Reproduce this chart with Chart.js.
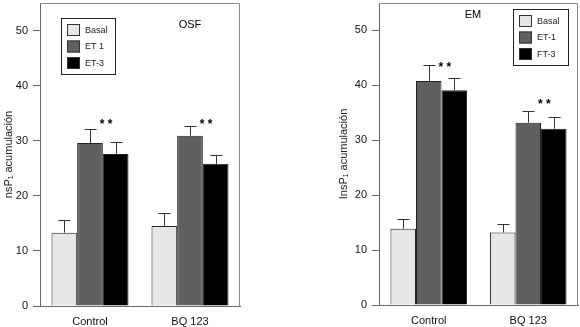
<!doctype html>
<html lang="es">
<head>
<meta charset="utf-8">
<title>InsP1 acumulación</title>
<script src="https://cdn.jsdelivr.net/npm/chart.js"></script>
<style>
html, body { margin: 0; padding: 0; background: #fff; }
.panel { position: absolute; top: 0; width: 290px; height: 327px; }
#p1 { left: 0; }
#p2 { left: 290px; }
</style>
</head>
<body>
<div class="panel" id="p1"><canvas id="c1"></canvas></div>
<div class="panel" id="p2"><canvas id="c2"></canvas></div>
<script>
// Datos
const categories = ['Control', 'BQ 123'];
const yTicks = [0, 10, 20, 30, 40, 50];

// Panel izquierdo (OSF)
const osfBasal = [13.3, 14.5];
const osfET1 = [29.6, 30.9];
const osfET3 = [27.6, 25.8];
const osfBasalErr = [2.4, 2.3];
const osfET1Err = [2.6, 1.7];
const osfET3Err = [2.2, 1.7];
const osfStars = [33.4, 33.4];
const osfLabels = ['Basal', 'ET 1', 'ET-3'];

// Panel derecho (EM)
const emBasal = [13.9, 13.2];
const emET1 = [40.8, 33.2];
const emET3 = [39.1, 32.1];
const emBasalErr = [1.7, 1.6];
const emET1Err = [2.9, 2.1];
const emET3Err = [2.3, 2.1];
const emStars = [43.8, 37.1];
const emLabels = ['Basal', 'ET-1', 'FT-3'];

const colors = ['#e6e6e6', '#606060', '#000000'];
const FONT = 'Liberation Sans, Arial, sans-serif';

// barras de error (solo hacia arriba) + asteriscos + marco
const extras = {
  id: 'extras',
  afterDatasetsDraw(chart, args, opts) {
    const ctx = chart.ctx;
    const y = chart.scales.y;
    const a = chart.chartArea;
    ctx.save();
    // marco gris
    ctx.strokeStyle = '#8a8a8a';
    ctx.lineWidth = 1;
    ctx.beginPath();
    ctx.moveTo(a.left, a.top + 0.5);
    ctx.lineTo(a.right - 0.5, a.top + 0.5);
    ctx.lineTo(a.right - 0.5, a.bottom);
    ctx.stroke();

    ctx.strokeStyle = '#333';
    chart.data.datasets.forEach((ds, di) => {
      const meta = chart.getDatasetMeta(di);
      meta.data.forEach((bar, i) => {
        const top = y.getPixelForValue(ds.data[i]);
        const e = y.getPixelForValue(ds.data[i] + ds.err[i]);
        const x = Math.round(bar.x) + 0.5;
        ctx.beginPath();
        ctx.moveTo(x, top);
        ctx.lineTo(x, Math.round(e) + 0.5);
        ctx.moveTo(x - 6, Math.round(e) + 0.5);
        ctx.lineTo(x + 6, Math.round(e) + 0.5);
        ctx.stroke();
      });
    });

    // asteriscos
    ctx.fillStyle = '#000';
    ctx.font = 'bold 12px ' + FONT;
    ctx.textAlign = 'center';
    ctx.textBaseline = 'middle';
    const mid = chart.getDatasetMeta(1);
    opts.stars.forEach((v, i) => {
      ctx.fillText('* *', mid.data[i].x + 16, y.getPixelForValue(v) + 3);
    });

    // etiqueta del panel
    ctx.font = '11px ' + FONT;
    ctx.fillText(opts.tag, opts.tagX, opts.tagY);

    // leyenda en recuadro
    const L = opts.legend;
    ctx.fillStyle = '#fff';
    ctx.fillRect(L.x, L.y, L.w, L.h);
    ctx.strokeStyle = '#222';
    ctx.strokeRect(L.x + 0.5, L.y + 0.5, L.w, L.h);
    chart.data.datasets.forEach((ds, di) => {
      const ry = L.y + 6 + di * 16.5;
      ctx.fillStyle = ds.backgroundColor;
      ctx.fillRect(L.x + 6, ry, 13, 12);
      ctx.strokeStyle = '#333';
      ctx.strokeRect(L.x + 6.5, ry + 0.5, 12, 11);
      ctx.fillStyle = '#222';
      ctx.font = '9px ' + FONT;
      ctx.textAlign = 'left';
      ctx.fillText(ds.label, L.x + 24, ry + 6.5);
    });
    ctx.restore();
  }
};

function makeChart(id, series, errs, labels, yTitle, axisW, padLeft, padRight, padTop, xH, extra) {
  return new Chart(document.getElementById(id), {
    type: 'bar',
    data: {
      labels: categories,
      datasets: series.map((s, i) => ({
        label: labels[i],
        data: s,
        err: errs[i],
        backgroundColor: colors[i],
        borderColor: '#222',
        borderWidth: 1,
        barPercentage: 1,
        categoryPercentage: 0.77
      }))
    },
    options: {
      responsive: true,
      maintainAspectRatio: false,
      animation: false,
      devicePixelRatio: 1,
      layout: { padding: { left: padLeft, right: padRight, top: padTop, bottom: 0 } },
      plugins: {
        legend: { display: false },
        tooltip: { enabled: false },
        extras: extra
      },
      scales: {
        x: {
          grid: { display: false, drawTicks: false },
          border: { color: '#666', width: 1 },
          ticks: { color: '#111', font: { family: FONT, size: 11 }, padding: 9 },
          afterFit: s => { s.height = xH; s.paddingLeft = 0; s.paddingRight = 0; }
        },
        y: {
          min: 0,
          max: 55,
          afterBuildTicks: s => { s.ticks = yTicks.map(v => ({ value: v })); },
          grid: { drawOnChartArea: false, tickLength: 7, color: '#666' },
          border: { color: '#666', width: 1 },
          ticks: { color: '#111', font: { family: FONT, size: 11 }, padding: 5 },
          title: { display: true, text: yTitle, color: '#222', font: { family: FONT, size: 11 }, padding: { top: 2, bottom: 0 } },
          afterFit: s => { s.width = axisW; s.paddingTop = 0; s.paddingBottom = 0; }
        }
      }
    },
    plugins: [extras]
  });
}

makeChart('c1', [osfBasal, osfET1, osfET3], [osfBasalErr, osfET1Err, osfET3Err], osfLabels,
  'nsP\u2081 acumulación', 40, 0, 50, 3, 21,
  { stars: osfStars, tag: 'OSF', tagX: 190, tagY: 25, legend: { x: 61, y: 18, w: 54, h: 56 } });

makeChart('c2', [emBasal, emET1, emET3], [emBasalErr, emET1Err, emET3Err], emLabels,
  'InsP\u2081 acumulación', 44, 45, 2, 3, 22,
  { stars: emStars, tag: 'EM', tagX: 183, tagY: 15, legend: { x: 223, y: 9, w: 55, h: 56 } });
</script>
</body>
</html>
